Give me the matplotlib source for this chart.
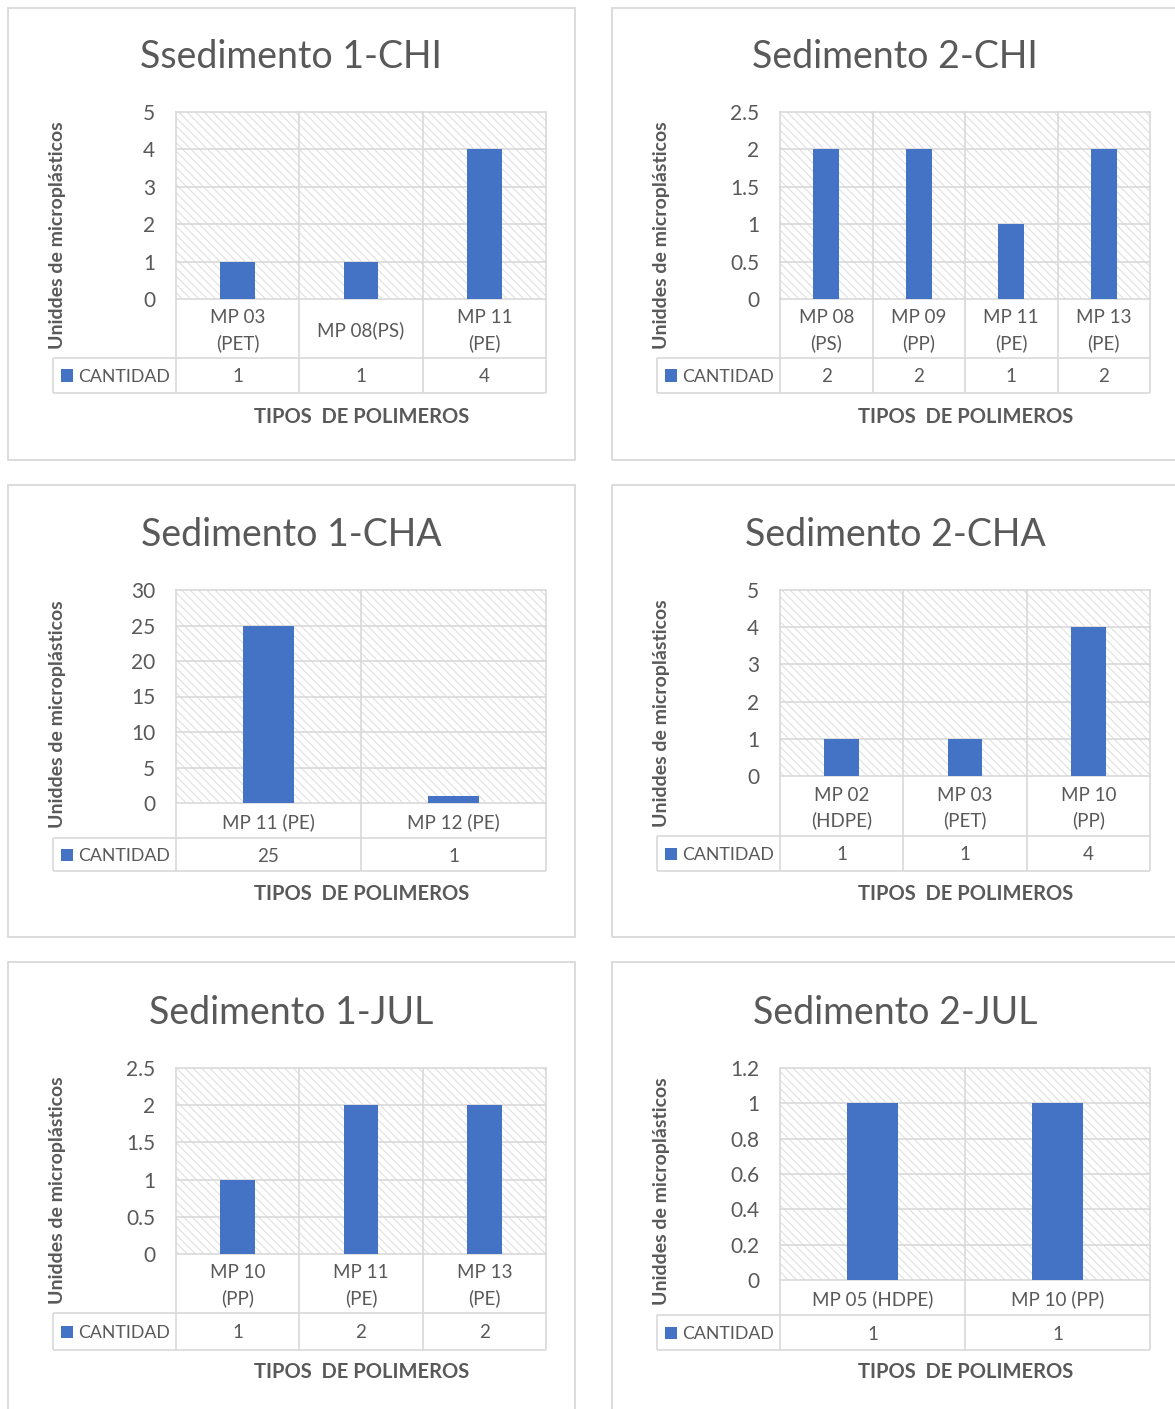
import matplotlib
matplotlib.use("Agg")
import matplotlib.pyplot as plt
from matplotlib.patches import Rectangle
from matplotlib.lines import Line2D

# ---------------- data ----------------
titles = ["Ssedimento 1-CHI", "Sedimento 2-CHI", "Sedimento 1-CHA",
          "Sedimento 2-CHA", "Sedimento 1-JUL", "Sedimento 2-JUL"]

cats_1chi = ["MP 03\n(PET)", "MP 08(PS)", "MP 11\n(PE)"]
vals_1chi = [1, 1, 4]
ticks_1chi = [0, 1, 2, 3, 4, 5]
tlabels_1chi = ["0", "1", "2", "3", "4", "5"]

cats_2chi = ["MP 08\n(PS)", "MP 09\n(PP)", "MP 11\n(PE)", "MP 13\n(PE)"]
vals_2chi = [2, 2, 1, 2]
ticks_2chi = [0, 0.5, 1, 1.5, 2, 2.5]
tlabels_2chi = ["0", "0.5", "1", "1.5", "2", "2.5"]

cats_1cha = ["MP 11 (PE)", "MP 12 (PE)"]
vals_1cha = [25, 1]
ticks_1cha = [0, 5, 10, 15, 20, 25, 30]
tlabels_1cha = ["0", "5", "10", "15", "20", "25", "30"]

cats_2cha = ["MP 02\n(HDPE)", "MP 03\n(PET)", "MP 10\n(PP)"]
vals_2cha = [1, 1, 4]
ticks_2cha = [0, 1, 2, 3, 4, 5]
tlabels_2cha = ["0", "1", "2", "3", "4", "5"]

cats_1jul = ["MP 10\n(PP)", "MP 11\n(PE)", "MP 13\n(PE)"]
vals_1jul = [1, 2, 2]
ticks_1jul = [0, 0.5, 1, 1.5, 2, 2.5]
tlabels_1jul = ["0", "0.5", "1", "1.5", "2", "2.5"]

cats_2jul = ["MP 05 (HDPE)", "MP 10 (PP)"]
vals_2jul = [1, 1]
ticks_2jul = [0, 0.2, 0.4, 0.6, 0.8, 1, 1.2]
tlabels_2jul = ["0", "0.2", "0.4", "0.6", "0.8", "1", "1.2"]

series_name = "CANTIDAD"
y_label = "Uniddes de microplásticos"
x_label = "TIPOS  DE POLIMEROS"

datasets = [
    (cats_1chi, vals_1chi, ticks_1chi, tlabels_1chi),
    (cats_2chi, vals_2chi, ticks_2chi, tlabels_2chi),
    (cats_1cha, vals_1cha, ticks_1cha, tlabels_1cha),
    (cats_2cha, vals_2cha, ticks_2cha, tlabels_2cha),
    (cats_1jul, vals_1jul, ticks_1jul, tlabels_1jul),
    (cats_2jul, vals_2jul, ticks_2jul, tlabels_2jul),
]

# ---------------- layout (pixels) ----------------
W, H = 1175, 1409
layouts = [
    dict(box=(8, 8, 575, 460), px=(176, 546), pt=112, pb=299, cb=358, tb=393, ll=53, ty=54, xly=415),
    dict(box=(612, 8, 1180, 460), px=(780, 1150), pt=112, pb=299, cb=358, tb=393, ll=657, ty=54, xly=415),
    dict(box=(8, 485, 575, 937), px=(176, 546), pt=590, pb=803, cb=838, tb=871, ll=53, ty=532, xly=892),
    dict(box=(612, 485, 1180, 937), px=(780, 1150), pt=590, pb=776, cb=836, tb=871, ll=657, ty=532, xly=892),
    dict(box=(8, 962, 575, 1420), px=(176, 546), pt=1068, pb=1254, cb=1313, tb=1350, ll=53, ty=1010, xly=1370),
    dict(box=(612, 962, 1180, 1420), px=(780, 1150), pt=1068, pb=1280, cb=1315, tb=1350, ll=657, ty=1010, xly=1370),
]

FONT = ["Lato", "DejaVu Sans"]
plt.rcParams["font.family"] = FONT
plt.rcParams["hatch.linewidth"] = 0.7
TXT = "#595959"
GRID = "#d9d9d9"
BAR = "#4472C4"
LW = 1.2

fig = plt.figure(figsize=(W / 100, H / 100), dpi=100)


def fx(x):
    return x / W


def fy(y):
    return 1 - y / H


def frect(x0, y0, x1, y1):
    return [x0 / W, 1 - y1 / H, (x1 - x0) / W, (y1 - y0) / H]


def fline(xa, ya, xb, yb):
    fig.add_artist(Line2D([fx(xa), fx(xb)], [fy(ya), fy(yb)], transform=fig.transFigure,
                          color=GRID, lw=LW, solid_capstyle="butt"))


for title, (cats, vals, ticks, tlabels), L in zip(titles, datasets, layouts):
    n = len(cats)
    bx0, by0, bx1, by1 = L["box"]
    x0, x1 = L["px"]
    pt, pb, cb, tb, ll = L["pt"], L["pb"], L["cb"], L["tb"], L["ll"]

    # panel frame
    fig.add_artist(Rectangle((fx(bx0), fy(by1)), (bx1 - bx0) / W, (by1 - by0) / H,
                             transform=fig.transFigure, fill=False, ec=GRID, lw=1.3))

    # title
    fig.text(fx((x0 + x1) / 2 - 70), fy(L["ty"]), title, ha="center",
             va="center_baseline", fontsize=27, color=TXT)

    # plot area
    ax = fig.add_axes(frect(x0, pt, x1, pb))
    ax.patch.set_visible(False)
    ax.add_patch(Rectangle((0, 0), 1, 1, transform=ax.transAxes, facecolor="white",
                           edgecolor="#dcdcdc", hatch="\\\\\\\\", lw=0, zorder=0))
    ax.set_xlim(-0.5, n - 0.5)
    ax.set_ylim(ticks[0], ticks[-1])
    for t in ticks:
        ax.axhline(t, color=GRID, lw=LW, zorder=1, clip_on=False)
    for k in range(n + 1):
        ax.axvline(k - 0.5, color=GRID, lw=LW, zorder=1, clip_on=False)
    ax.bar(range(n), vals, width=0.28, color=BAR, zorder=3)
    for s in ax.spines.values():
        s.set_visible(False)
    ax.set_xticks([])
    ax.set_yticks(ticks)
    ax.set_yticklabels(tlabels)
    ax.tick_params(axis="y", length=0, pad=15, labelsize=15, labelcolor=TXT)

    # data table below the plot (shares category scale)
    tax = fig.add_axes(frect(x0, pb, x1, tb))
    tax.set_xlim(-0.5, n - 0.5)
    tax.set_ylim(tb, pb)
    tax.axis("off")
    for k in range(n + 1):
        tax.plot([k - 0.5, k - 0.5], [pb, tb], color=GRID, lw=LW, clip_on=False,
                 solid_capstyle="butt")
    for i, (c, v) in enumerate(zip(cats, vals)):
        tax.text(i, (pb + cb) / 2 + 2, c, ha="center", va="center", fontsize=13.5,
                 color=TXT, linespacing=1.5)
        tax.text(i, (cb + tb) / 2, f"{v:g}", ha="center", va="center_baseline",
                 fontsize=13.5, color=TXT)

    # table row borders + legend cell
    fline(ll, cb, x1, cb)
    fline(ll, tb, x1, tb)
    fline(ll, cb, ll, tb)
    ym = (cb + tb) / 2
    fig.add_artist(Rectangle((fx(ll + 8), fy(ym + 6)), 12 / W, 12 / H,
                             transform=fig.transFigure, color=BAR, lw=0))
    fig.text(fx(ll + 25), fy(ym), series_name, ha="left", va="center_baseline",
             fontsize=12.8, color=TXT)

    # axis titles
    fig.text(fx(ll + 4), fy((pt + cb) / 2), y_label, rotation=90, ha="center",
             va="center", fontsize=14, fontweight="bold", color=TXT)
    fig.text(fx((x0 + x1) / 2 + 1), fy(L["xly"]), x_label, ha="center",
             va="center_baseline", fontsize=14.5, fontweight="bold", color=TXT)

fig.savefig("out.png", dpi=100, facecolor="white")
